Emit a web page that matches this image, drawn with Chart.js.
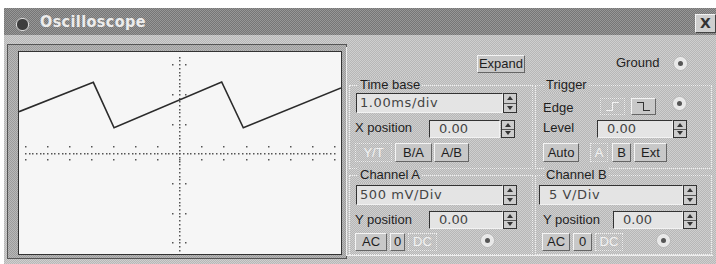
<!DOCTYPE html>
<html>
<head>
<meta charset="utf-8">
<script src="https://cdn.jsdelivr.net/npm/chart.js@4.4.0/dist/chart.umd.min.js"></script>
<style>
body { margin:0; width:716px; height:264px; background:#fff; overflow:hidden; position:relative;
  font-family:"Liberation Sans", Arial, sans-serif; }
.dither { background:repeating-conic-gradient(#b7b7b7 0 25%, #cfcfcf 0 50%) 0 0/2px 2px; }
#win { position:absolute; left:4px; top:8px; width:712px; height:256px; }
#title { position:absolute; left:4px; top:8px; width:712px; height:27px;
  background:repeating-conic-gradient(#767676 0 25%, #979797 0 50%) 0 0/2px 2px; }
#title .txt { position:absolute; left:36px; top:4px; color:#ececec; font:bold 16px "DejaVu Sans Condensed", "DejaVu Sans", sans-serif; letter-spacing:0.4px; }
#title .ico { position:absolute; left:12px; top:10px; width:11px; height:11px; border-radius:6px; background:#3c3c3c; border:1px solid #ddd; }
#close { position:absolute; left:695px; top:14px; width:19px; height:17px; background:#cfcfcf; border:1px solid; border-color:#f4f4f4 #444 #444 #f4f4f4;
  font:bold 14px "DejaVu Sans", sans-serif; color:#333; text-align:center; line-height:17px; }
#bezel { position:absolute; left:7px; top:44px; width:338px; height:213px; border:1px solid #555;
  background:repeating-conic-gradient(#9c9c9c 0 25%, #b8b8b8 0 50%) 0 0/2px 2px; }
#screen { position:absolute; left:18px; top:51px; width:322px; height:202px; border:1px solid #333; background:#f6f6f6; }
#screen canvas { position:absolute; left:0; top:0; }
#panel { position:absolute; left:346px; top:47px; width:366px; height:208px; border-left:1px solid #eee; border-bottom:1px solid #eee; }
.lbl { position:absolute; font-size:13px; color:#1e1e1e; line-height:16px; white-space:nowrap; }
.grp { position:absolute; border:1px dotted #f0f0f0; }
.grp span { position:absolute; left:8px; top:-9px; padding:0 2px; font-size:13px; color:#1e1e1e; line-height:16px;
  background:repeating-conic-gradient(#b7b7b7 0 25%, #cfcfcf 0 50%) 0 0/2px 2px; }
.fld { position:absolute; background:#e4e4e4; border:1px solid; border-color:#333 #f2f2f2 #f2f2f2 #333; box-sizing:border-box;
  font:13px "DejaVu Sans", sans-serif; color:#444; padding-left:3px; white-space:nowrap; }
.spin { position:absolute; width:14px; box-sizing:border-box; border:1px solid #333; background:#cdcdcd; }
.spin i { position:absolute; left:3px; width:0; height:0; border-left:3px solid transparent; border-right:3px solid transparent; }
.spin .up { top:2px; border-bottom:4px solid #333; }
.spin .dn { bottom:2px; border-top:4px solid #333; }
.spin b { position:absolute; left:0; right:0; top:50%; height:1px; background:#555; }
.btn { position:absolute; box-sizing:border-box; border:1px solid; border-color:#f4f4f4 #666 #666 #f4f4f4; text-align:center;
  font-size:13px; color:#1e1e1e; background:#c8c8c8; }
.btn.dis { color:#f2f2f2; border:1px dotted #eee; background:transparent; }
.rad { position:absolute; width:11px; height:11px; border-radius:7px; background:#e8e8e8; border:1px dotted #f4f4f4; box-shadow:0 0 0 1px #bbb; }
.rad:after { content:""; position:absolute; left:3px; top:3px; width:5px; height:5px; border-radius:3px; background:#555; }
.edge { position:absolute; top:3px; width:6px; height:8px; }
.edge.lo { border-bottom:1px solid; }
.edge.hi { border-top:1px solid; }
</style>
</head>
<body>
<div id="win" class="dither"></div>
<div id="title"><div class="ico"></div><div class="txt">Oscilloscope</div></div>
<div id="close">X</div>
<div id="bezel"></div>
<div id="screen"><canvas id="scope" width="322" height="202"></canvas></div>
<div id="panel"></div>

<div class="btn" style="left:477px;top:55px;width:48px;height:18px;line-height:16px;">Expand</div>
<div class="lbl" style="left:616px;top:55px;">Ground</div>
<div class="rad" style="left:674px;top:57px;"></div>

<div class="grp" style="left:349px;top:85px;width:182px;height:82px;"><span>Time base</span></div>
<div class="fld" style="left:356px;top:93px;width:147px;height:20px;line-height:18px;letter-spacing:0.6px;">1.00ms/div</div>
<div class="spin" style="left:503px;top:93px;height:20px;"><i class="up"></i><b></b><i class="dn"></i></div>
<div class="lbl" style="left:355px;top:120px;">X position</div>
<div class="fld" style="left:429px;top:120px;width:71px;height:18px;line-height:16px;padding-left:9px;">0.00</div>
<div class="spin" style="left:501px;top:120px;height:18px;"><i class="up"></i><b></b><i class="dn"></i></div>
<div class="btn dis" style="left:355px;top:143px;width:37px;height:19px;line-height:17px;">Y/T</div>
<div class="btn" style="left:395px;top:143px;width:37px;height:19px;line-height:17px;">B/A</div>
<div class="btn" style="left:434px;top:143px;width:35px;height:19px;line-height:17px;">A/B</div>

<div class="grp" style="left:535px;top:85px;width:175px;height:82px;"><span>Trigger</span></div>
<div class="lbl" style="left:543px;top:100px;">Edge</div>
<div class="btn dis" style="left:600px;top:98px;width:25px;height:17px;color:#f2f2f2;">
  <div class="edge lo" style="left:5px;border-right:1px solid;"></div><div class="edge hi" style="left:12px;"></div></div>
<div class="btn" style="left:631px;top:98px;width:25px;height:17px;color:#333;">
  <div class="edge hi" style="left:5px;border-right:1px solid;"></div><div class="edge lo" style="left:12px;"></div></div>
<div class="rad" style="left:673px;top:97px;"></div>
<div class="lbl" style="left:543px;top:120px;">Level</div>
<div class="fld" style="left:597px;top:120px;width:76px;height:18px;line-height:16px;padding-left:9px;">0.00</div>
<div class="spin" style="left:673px;top:120px;height:18px;"><i class="up"></i><b></b><i class="dn"></i></div>
<div class="btn" style="left:543px;top:143px;width:36px;height:19px;line-height:17px;">Auto</div>
<div class="btn dis" style="left:590px;top:143px;width:18px;height:19px;line-height:17px;">A</div>
<div class="btn" style="left:612px;top:143px;width:19px;height:19px;line-height:17px;">B</div>
<div class="btn" style="left:634px;top:143px;width:33px;height:19px;line-height:17px;">Ext</div>

<div class="grp" style="left:349px;top:175px;width:182px;height:78px;"><span>Channel A</span></div>
<div class="fld" style="left:356px;top:185px;width:147px;height:20px;line-height:18px;letter-spacing:0.6px;">500 mV/Div</div>
<div class="spin" style="left:503px;top:185px;height:20px;"><i class="up"></i><b></b><i class="dn"></i></div>
<div class="lbl" style="left:355px;top:212px;">Y position</div>
<div class="fld" style="left:429px;top:211px;width:74px;height:18px;line-height:16px;padding-left:9px;">0.00</div>
<div class="spin" style="left:503px;top:211px;height:18px;"><i class="up"></i><b></b><i class="dn"></i></div>
<div class="btn" style="left:355px;top:233px;width:32px;height:18px;line-height:16px;">AC</div>
<div class="btn" style="left:390px;top:233px;width:15px;height:18px;line-height:16px;">0</div>
<div class="btn dis" style="left:408px;top:233px;width:29px;height:18px;line-height:16px;">DC</div>
<div class="rad" style="left:481px;top:234px;"></div>

<div class="grp" style="left:535px;top:175px;width:175px;height:78px;"><span>Channel B</span></div>
<div class="fld" style="left:539px;top:185px;width:144px;height:20px;line-height:18px;letter-spacing:0.6px;padding-left:9px;">5 V/Div</div>
<div class="spin" style="left:683px;top:185px;height:20px;"><i class="up"></i><b></b><i class="dn"></i></div>
<div class="lbl" style="left:543px;top:212px;">Y position</div>
<div class="fld" style="left:613px;top:211px;width:70px;height:18px;line-height:16px;padding-left:9px;">0.00</div>
<div class="spin" style="left:683px;top:211px;height:18px;"><i class="up"></i><b></b><i class="dn"></i></div>
<div class="btn" style="left:542px;top:233px;width:28px;height:18px;line-height:16px;">AC</div>
<div class="btn" style="left:573px;top:233px;width:19px;height:18px;line-height:16px;">0</div>
<div class="btn dis" style="left:595px;top:233px;width:28px;height:18px;line-height:16px;">DC</div>
<div class="rad" style="left:657px;top:234px;"></div>

<script>
// trace: time in ms, channel A in volts
const timeMs   = [-7.27, -3.90, -2.96, 1.92, 2.90, 7.33];
const channelA = [0.70, 1.195, 0.43, 1.20, 0.43, 1.10];

// scope graticule
const msPerDiv = 1.0;
const voltsPerDiv = 0.5;
const xDivs = [-7, -6, -5, -4, -3, -2, -1, 0, 1, 2, 3, 4, 5, 6, 7];
const yDivs = [-3, -2, -1, 0, 1, 2, 3];

const points = timeMs.map((t, i) => ({ x: t, y: channelA[i] }));

// dotted center lines with little tick dots, drawn on the chart's own scales
const graticule = {
  id: 'graticule',
  beforeDatasetsDraw(chart) {
    const ctx = chart.ctx;
    const x = chart.scales.x, y = chart.scales.y;
    const x0 = Math.round(x.getPixelForValue(0));
    const y0 = Math.round(y.getPixelForValue(0));
    ctx.save();
    ctx.fillStyle = '#555';
    // horizontal line, 6 dots per division
    const first = xDivs[0], last = xDivs[xDivs.length - 1];
    for (let d = first; d <= last + 0.001; d += 1 / 6) {
      ctx.fillRect(Math.round(x.getPixelForValue(d * msPerDiv)), y0, 1.5, 1.5);
    }
    // vertical line, 8 dots per division, runs a bit past the last tick
    const ytop = yDivs[yDivs.length - 1] + 0.25;
    for (let d = -ytop; d <= ytop + 0.001; d += 1 / 8) {
      ctx.fillRect(x0, Math.round(y.getPixelForValue(d * voltsPerDiv)), 1.5, 1.5);
    }
    // tick dots
    xDivs.forEach(d => {
      const px = Math.round(x.getPixelForValue(d * msPerDiv));
      ctx.fillRect(px, y0 - 7, 1.5, 1.5);
      ctx.fillRect(px, y0 + 6, 1.5, 1.5);
    });
    yDivs.forEach(d => {
      if (d === 0) return;
      const py = Math.round(y.getPixelForValue(d * voltsPerDiv));
      ctx.fillRect(x0 - 7, py, 1.5, 1.5);
      ctx.fillRect(x0 + 6, py, 1.5, 1.5);
    });
    ctx.restore();
  }
};

new Chart(document.getElementById('scope').getContext('2d'), {
  type: 'scatter',
  data: {
    datasets: [{
      data: points,
      showLine: true,
      borderColor: '#2b2b2b',
      borderWidth: 1.6,
      pointRadius: 0,
      tension: 0
    }]
  },
  options: {
    responsive: false,
    animation: false,
    layout: { padding: 0 },
    plugins: { legend: { display: false }, tooltip: { enabled: false } },
    scales: {
      x: { type: 'linear', display: false, min: -7.27, max: 7.33 },
      y: { type: 'linear', display: false, min: -1.695, max: 1.705 }
    }
  },
  plugins: [graticule]
});
</script>
</body>
</html>
